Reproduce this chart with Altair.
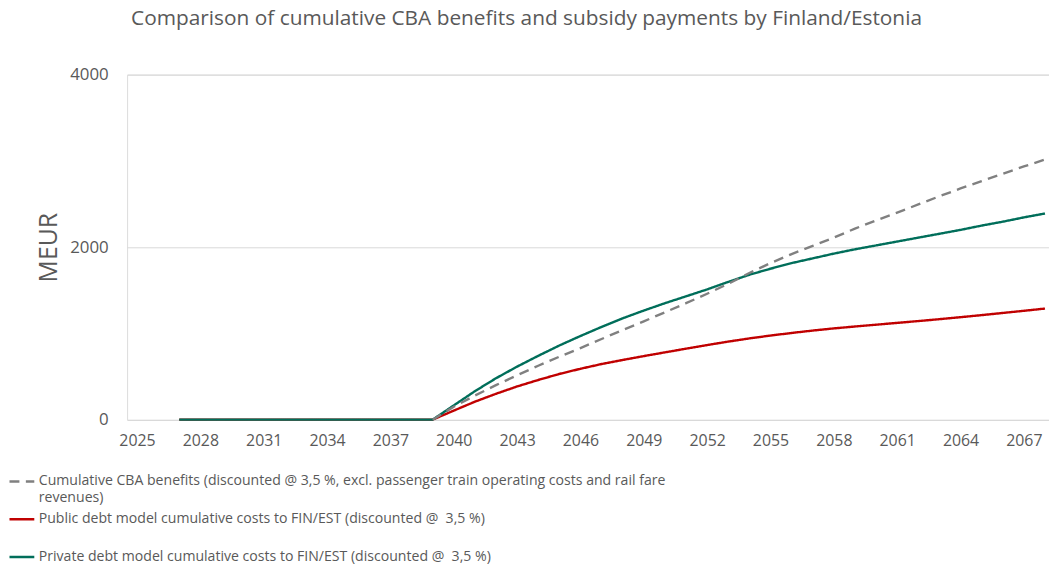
import altair as alt
import pandas as pd

# ---------------- data ----------------
cost_years = [2027, 2028, 2029, 2030, 2031, 2032, 2033, 2034, 2035, 2036, 2037, 2038,
              2039, 2040, 2041, 2042, 2043, 2044, 2045, 2046, 2047, 2048, 2049, 2050,
              2051, 2052, 2053, 2054, 2055, 2056, 2057, 2058, 2059, 2060, 2061, 2062,
              2063, 2064, 2065, 2066, 2067, 2068]
public_costs = [0, 0, 0, 0, 0, 0, 0, 0, 0, 0, 0, 0,
                0, 105, 208, 300, 385, 460, 530, 590, 645, 692, 737, 780,
                823, 865, 905, 942, 975, 1005, 1033, 1058, 1080, 1101, 1122, 1143,
                1165, 1188, 1212, 1237, 1262, 1288]
private_costs = [0, 0, 0, 0, 0, 0, 0, 0, 0, 0, 0, 0,
                 0, 165, 330, 480, 615, 740, 860, 970, 1075, 1175, 1265, 1350,
                 1430, 1510, 1597, 1680, 1750, 1815, 1870, 1925, 1975, 2020, 2065, 2110,
                 2155, 2200, 2250, 2295, 2345, 2390]
benefit_years = [2039, 2040, 2041, 2042, 2043, 2044, 2045, 2046, 2047, 2048, 2049, 2050,
                 2051, 2052, 2053, 2054, 2055, 2056, 2057, 2058, 2059, 2060, 2061, 2062,
                 2063, 2064, 2065, 2066, 2067, 2068]
benefits = [0, 150, 280, 400, 515, 625, 730, 830, 935, 1040, 1140, 1245,
            1350, 1460, 1575, 1700, 1815, 1920, 2015, 2110, 2215, 2310, 2400, 2495,
            2590, 2680, 2765, 2850, 2935, 3015]

x_ticks = [2025, 2028, 2031, 2034, 2037, 2040, 2043, 2046, 2049, 2052, 2055, 2058, 2061, 2064, 2067]
y_ticks = [0, 2000, 4000]

S_BEN = "Cumulative CBA benefits (discounted @ 3,5 %, excl. passenger train operating costs and rail fare revenues)"
S_PUB = "Public debt model cumulative costs to FIN/EST (discounted @ \u00a03,5 %)"
S_PRI = "Private debt model cumulative costs to FIN/EST (discounted @ \u00a03,5 %)"
series_order = [S_BEN, S_PUB, S_PRI]
series_colors = ["#808080", "#C00000", "#006E5A"]
series_dashes = [[10, 6.5], [1, 0], [1, 0]]

TITLE = "Comparison of cumulative CBA benefits and subsidy payments by Finland/Estonia"
FONT = "Open Sans"
GREY_TXT = "#595959"

# ---------------- long table ----------------
rows = []
for y, v in zip(benefit_years, benefits):
    rows.append({"year": y, "value": v, "series": S_BEN})
for y, v in zip(cost_years, public_costs):
    rows.append({"year": y, "value": v, "series": S_PUB})
for y, v in zip(cost_years, private_costs):
    rows.append({"year": y, "value": v, "series": S_PRI})
df = pd.DataFrame(rows)

legend = alt.Legend(
    title=None,
    orient="none",
    legendX=-120,
    legendY=396,
    direction="vertical",
    symbolType="stroke",
    symbolSize=625,
    symbolStrokeWidth=2.5,
    labelFont=FONT,
    labelFontSize=14.2,
    labelColor=GREY_TXT,
    labelLimit=900,
    labelOffset=3,
    rowPadding=-2,
    gridAlign="all",
    labelExpr=("indexof(datum.label, 'CBA') >= 0 ? "
               "['Cumulative CBA benefits (discounted @ 3,5 %, excl. passenger train operating costs and rail fare', 'revenues)']"
               " : datum.label"),
)

color_scale = alt.Scale(domain=series_order, range=series_colors)
dash_scale = alt.Scale(domain=series_order, range=series_dashes)

x_enc = alt.X(
    "year:Q",
    scale=alt.Scale(domain=[2024.53, 2068.19], nice=False, zero=False),
    axis=alt.Axis(
        values=x_ticks, format="d", title=None, grid=False, ticks=False, domain=False,
        labelFont=FONT, labelFontSize=16, labelColor=GREY_TXT, labelPadding=13,
        labelFlush=False,
    ),
)
y_enc = alt.Y(
    "value:Q",
    scale=alt.Scale(domain=[0, 4000], nice=False),
    axis=alt.Axis(
        values=y_ticks, format="d", title="MEUR", grid=True, gridColor="#D9D9D9", gridWidth=1,
        ticks=False, domain=False,
        labelFont=FONT, labelFontSize=17, labelColor=GREY_TXT, labelPadding=19,
        titleFont=FONT, titleFontSize=25, titleFontWeight="normal", titleColor=GREY_TXT,
        titlePadding=8,
    ),
)

base = alt.Chart(df).encode(
    x=x_enc,
    y=y_enc,
    color=alt.Color("series:N", scale=color_scale, legend=legend),
    strokeDash=alt.StrokeDash("series:N", scale=dash_scale, legend=legend),
)

red = base.transform_filter(alt.datum.series == S_PUB).mark_line(strokeWidth=2.4)
green = base.transform_filter(alt.datum.series == S_PRI).mark_line(strokeWidth=2.4)
grey = base.transform_filter(alt.datum.series == S_BEN).mark_line(strokeWidth=2.4)

chart = alt.layer(red, green, grey).properties(
    width=929,
    height=347.7,
    title=alt.TitleParams(
        TITLE, font=FONT, fontSize=21, fontWeight="normal", color=GREY_TXT,
        anchor="middle", dx=-62, offset=37,
    ),
    autosize=alt.AutoSizeParams(type="none"),
    padding={"left": 120, "top": 65, "right": 0, "bottom": 144},
).configure_view(stroke=None).configure(background="white")

chart.save("out.html", embed_options={"renderer": "svg", "actions": False})
